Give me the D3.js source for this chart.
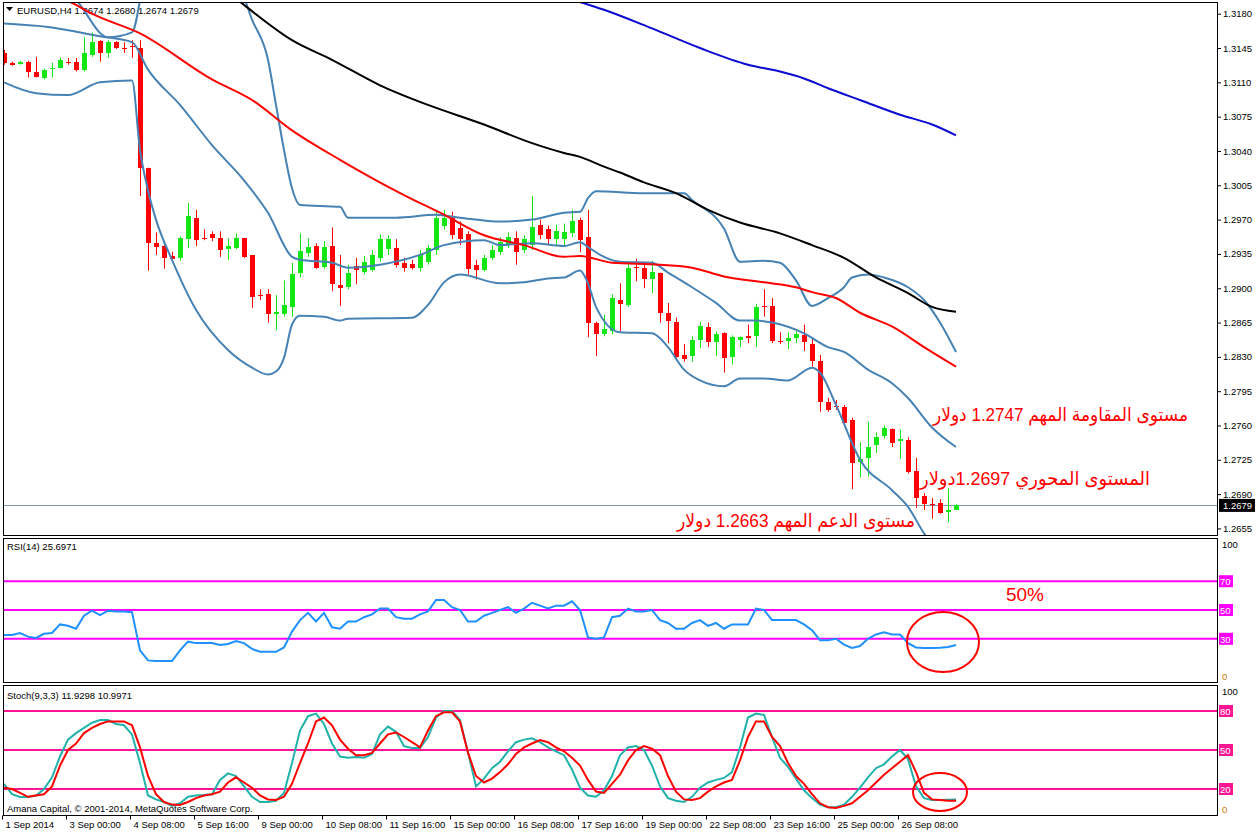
<!DOCTYPE html>
<html>
<head>
<meta charset="utf-8">
<script src="https://cdn.jsdelivr.net/npm/d3@7"></script>
<style>
  body { margin: 0; background: #fff; }
  svg text { font-family: "Liberation Sans", Arial, "DejaVu Sans", sans-serif; }
</style>
</head>
<body>
<svg id="chart" width="1258" height="835"></svg>
<script>
// ---- data ----
const opens = [1.3140,1.3130,1.3129,1.3131,1.3121,1.3115,1.3124,1.3125,1.3131,1.3131,1.3123,1.3138,1.3152,1.3140,1.3151,1.3145,1.3147,1.3145,1.3023,1.2946,
  1.2943,1.2933,1.2931,1.2951,1.2972,1.2951,1.2955,1.2951,1.2940,1.2941,1.2951,1.2934,1.2893,1.2894,1.2874,1.2874,1.2881,1.2916,1.2936,1.2943,
  1.2922,1.2943,1.2903,1.2902,1.2923,1.2917,1.2919,1.2931,1.2940,1.2941,1.2926,1.2925,1.2921,1.2927,1.2939,1.2964,1.2972,1.2961,1.2955,1.2924,
  1.2919,1.2931,1.2937,1.2944,1.2951,1.2939,1.2944,1.2965,1.2960,1.2950,1.2950,1.2957,1.2970,1.2952,1.2865,1.2853,1.2856,1.2888,1.2883,1.2922,
  1.2921,1.2910,1.2916,1.2875,1.2866,1.2832,1.2831,1.2847,1.2860,1.2845,1.2854,1.2830,1.2847,1.2851,1.2851,1.2882,1.2882,1.2846,1.2846,1.2849,
  1.2852,1.2843,1.2826,1.2784,1.2780,1.2779,1.2766,1.2723,1.2727,1.2740,1.2749,1.2756,1.2744,1.2745,1.2714,1.2688,1.2680,1.2681,1.2672,1.2674];
const highs = [1.3143,1.3131,1.3132,1.3132,1.3136,1.3124,1.3130,1.3135,1.3135,1.3135,1.3156,1.3161,1.3153,1.3153,1.3152,1.3151,1.3153,1.3153,1.3023,1.2957,
  1.2944,1.2937,1.2953,1.2987,1.2980,1.2960,1.2958,1.2958,1.2951,1.2956,1.2951,1.2934,1.2899,1.2899,1.2893,1.2908,1.2926,1.2956,1.2951,1.2946,
  1.2948,1.2962,1.2934,1.2924,1.2931,1.2933,1.2939,1.2955,1.2954,1.2950,1.2931,1.2929,1.2939,1.2944,1.2978,1.2980,1.2978,1.2968,1.2958,1.2929,
  1.2934,1.2944,1.2952,1.2957,1.2958,1.2954,1.2994,1.2970,1.2964,1.2965,1.2966,1.2980,1.2972,1.2980,1.2866,1.2873,1.2894,1.2905,1.2928,1.2930,
  1.2927,1.2928,1.2916,1.2885,1.2870,1.2843,1.2851,1.2866,1.2865,1.2856,1.2855,1.2852,1.2851,1.2863,1.2884,1.2899,1.2890,1.2855,1.2855,1.2856,
  1.2863,1.2850,1.2832,1.2788,1.2786,1.2781,1.2768,1.2743,1.2764,1.2753,1.2760,1.2757,1.2756,1.2748,1.2727,1.2691,1.2686,1.2685,1.2696,1.2680];
const lows = [1.3128,1.3127,1.3128,1.3115,1.3115,1.3113,1.3115,1.3124,1.3128,1.3121,1.3121,1.3136,1.3131,1.3135,1.3144,1.3140,1.3135,1.2994,1.2918,1.2934,
  1.2920,1.2929,1.2928,1.2941,1.2943,1.2949,1.2948,1.2932,1.2929,1.2940,1.2931,1.2880,1.2888,1.2865,1.2857,1.2871,1.2871,1.2911,1.2932,1.2920,
  1.2920,1.2897,1.2882,1.2899,1.2904,1.2914,1.2917,1.2927,1.2934,1.2921,1.2917,1.2919,1.2917,1.2924,1.2934,1.2960,1.2950,1.2944,1.2914,1.2909,
  1.2917,1.2929,1.2934,1.2941,1.2924,1.2936,1.2939,1.2950,1.2944,1.2944,1.2944,1.2952,1.2937,1.2850,1.2831,1.2851,1.2853,1.2856,1.2881,1.2907,
  1.2900,1.2895,1.2865,1.2844,1.2827,1.2825,1.2825,1.2839,1.2840,1.2831,1.2814,1.2822,1.2840,1.2844,1.2840,1.2871,1.2844,1.2843,1.2838,1.2844,
  1.2836,1.2820,1.2774,1.2774,1.2776,1.2761,1.2695,1.2707,1.2708,1.2732,1.2747,1.2738,1.2726,1.2711,1.2676,1.2674,1.2665,1.2670,1.2661,1.2674];
const closes = [1.3130,1.3128,1.3131,1.3121,1.3116,1.3123,1.3125,1.3133,1.3130,1.3123,1.3140,1.3151,1.3140,1.3151,1.3145,1.3144,1.3146,1.3023,1.2946,1.2942,
  1.2931,1.2930,1.2951,1.2974,1.2950,1.2950,1.2951,1.2939,1.2943,1.2951,1.2932,1.2891,1.2892,1.2874,1.2876,1.2883,1.2915,1.2938,1.2942,1.2921,
  1.2942,1.2904,1.2900,1.2916,1.2919,1.2927,1.2934,1.2950,1.2950,1.2924,1.2921,1.2921,1.2934,1.2941,1.2972,1.2972,1.2955,1.2950,1.2919,1.2919,
  1.2931,1.2939,1.2947,1.2952,1.2937,1.2950,1.2962,1.2955,1.2950,1.2958,1.2957,1.2969,1.2950,1.2864,1.2854,1.2858,1.2890,1.2884,1.2921,1.2921,
  1.2910,1.2917,1.2875,1.2867,1.2830,1.2828,1.2847,1.2861,1.2845,1.2853,1.2829,1.2850,1.2850,1.2849,1.2881,1.2881,1.2846,1.2845,1.2849,1.2853,
  1.2845,1.2826,1.2784,1.2776,1.2779,1.2763,1.2722,1.2726,1.2738,1.2748,1.2757,1.2742,1.2746,1.2712,1.2686,1.2680,1.2679,1.2671,1.2674,1.2679];

// indicator lines, [bar, price]
const bbUpper = [[0,1.3235],[9,1.3194],[13,1.3156],[16,1.3161],[17,1.3194],[18,1.3255],[29,1.3215],[31,1.3174],[33,1.3133],[34,1.3087],
  [35,1.3041],[36,1.3002],[37,1.2985],[42,1.2983],[43,1.2972],[49,1.2972],[54,1.2975],[57,1.2972],[62,1.2968],[66,1.2970],[70,1.2977],
  [72,1.2978],[73,1.2992],[74,1.2999],[80,1.2997],[85,1.2997],[86,1.2990],[90,1.2961],[92,1.2927],[95,1.2928],[97,1.2926],[99,1.2908],
  [101,1.2882],[103,1.2890],[105,1.2901],[106,1.2911],[108,1.2914],[110,1.2911],[113,1.2901],[115,1.2888],[117,1.2865],[119,1.2835]];
const bbMiddle = [[0,1.3170],[6,1.3166],[12,1.3157],[16,1.3151],[18,1.3123],[22,1.3087],[26,1.3046],[30,1.3010],[33,1.2977],[36,1.2932],
  [37,1.2929],[41,1.2926],[43,1.2921],[47,1.2924],[52,1.2934],[55,1.2944],[60,1.2949],[62,1.2944],[66,1.2946],[70,1.2943],[72,1.2947],
  [73,1.2942],[75,1.2932],[77,1.2927],[81,1.2926],[83,1.2916],[86,1.2901],[89,1.2885],[92,1.2867],[94,1.2867],[96,1.2865],[100,1.2854],
  [103,1.2840],[105,1.2835],[108,1.2817],[111,1.2803],[113,1.2788],[116,1.2758],[119,1.2738]];
const bbLower = [[0,1.3110],[4,1.3099],[8,1.3097],[12,1.3110],[16,1.3112],[17,1.3041],[18,1.3000],[19,1.2970],[21,1.2929],[24,1.2878],
  [28,1.2837],[31,1.2819],[33,1.2812],[34,1.2815],[35,1.2829],[36,1.2863],[37,1.2872],[40,1.2871],[42,1.2867],[43,1.2869],[51,1.2870],
  [53,1.2883],[55,1.2906],[57,1.2914],[62,1.2905],[65,1.2906],[68,1.2910],[70,1.2911],[72,1.2918],[73,1.2905],[74,1.2881],[77,1.2855],
  [81,1.2854],[83,1.2840],[85,1.2817],[87,1.2806],[90,1.2800],[92,1.2808],[95,1.2808],[98,1.2806],[101,1.2819],[102,1.2814],[104,1.2781],
  [107,1.2725],[111,1.2694],[113,1.2677],[115,1.2650],[117,1.2628],[119,1.2607]];
const maRed = [[0,1.3220],[9,1.3189],[11,1.3180],[17,1.3160],[26,1.3113],[31,1.3092],[36,1.3061],[42,1.3031],[50,1.2995],[55,1.2975],
  [60,1.2954],[65,1.2944],[70,1.2932],[72,1.2933],[76,1.2926],[82,1.2924],[86,1.2921],[90,1.2912],[95,1.2906],[99,1.2901],[101,1.2896],
  [104,1.2890],[107,1.2875],[111,1.2861],[115,1.2840],[119,1.2820]];
const maBlack = [[28,1.3202],[30,1.3189],[36,1.3153],[41,1.3133],[47,1.3107],[53,1.3087],[60,1.3067],[66,1.3048],[70,1.3038],[72,1.3034],
  [75,1.3024],[77,1.3018],[80,1.3008],[84,1.2997],[88,1.2980],[92,1.2967],[97,1.2956],[101,1.2944],[105,1.2931],[109,1.2911],[113,1.2895],
  [116,1.2881],[119,1.2876]];
const maBlue = [[70,1.3197],[72,1.3192],[75,1.3184],[81,1.3165],[87,1.3145],[93,1.3128],[97,1.3121],[100,1.3114],[103,1.3104],[107,1.3092],
  [112,1.3077],[116,1.3067],[119,1.3056]];

const rsiValues = [32.6,32.6,34,31.5,30.6,33.5,34,40,39,37,46,49.5,46.5,49.5,49,49,48.5,22,15,14.6,
  14.6,14.6,22,28,27,27,27,25.7,26.4,28.5,27,23,21,21,21,24,35,43,48,42,
  48,38,37,42,42,45,47,51,51,45,44,44,47,49,57,57,52,50,42,42,
  46,48,50,52,48,51,55,53,51,53,53,56,50,31,30,31,45,46,51,49,
  49,50,43,41,37,37,41,43,39,41,37,40,40,40,51,50,43,43,43,43,
  40,36,29,29,30,26,23.6,25,30,33,34.5,33,33,27,24,23.6,23.6,23.8,24.3,25.7];
const stochMain = [24,16,13.8,13.8,15,20,29,45,58,63,67,71,73,73,70,69,62,40,15,12,
  10,7,9,14,15,15.4,16,27,32,30,22,14,10,10,11,17,40,65,76,78,
  70,55,45,44,44.6,44,47,62,68,64,53,51.5,51.5,60,75,80,80,73,48,22,
  28,36,41,49,56,58,59,56,52,49,46,35,21,15,14,19,30,46,52,53,
  50,38,22,13,11,10,14,21,25,27,28.5,33,52,75,78,77,60,44,37,28,
  19,13,8,6,6,8,14,21,29,36,39,45,50,43,22,13,11.5,11.5,11.7,11.9];
const stochSignal = [21,20,17,14,15,16,22,38,50,55,63,67,70,72,72,72,69,52,30,16,
  10,8,7.7,10,13,15,16,18,25,29,25,21,15,12,11.5,14,24,40,55,72,
  75,69,58,51,46,46,47.7,55,62,63.5,60,56,52,65,76,79,79,72,48,30,
  25,28,33,39,47,52,55,57.7,56,52,49,44,38,27,18,17,24,31,42,50,
  53,51,46,30,18,12,11.5,13,18,22,25,27,42,60,72,72,60,53,40,30,
  24,16,9,6,5.4,7,9,14,19,25,31,36,41,46,33,17,12,11.5,11,11];

const priceTicks = [1.3180,1.3145,1.3110,1.3075,1.3040,1.3005,1.2970,1.2935,1.2900,1.2865,1.2830,1.2795,1.2760,1.2725,1.2690,1.2655];
const tickBars = [0,8,16,24,32,40,48,56,64,72,80,88,96,104,112];
const timeLabels = ["1 Sep 2014","3 Sep 00:00","4 Sep 08:00","5 Sep 16:00","9 Sep 00:00","10 Sep 08:00","11 Sep 16:00",
  "15 Sep 00:00","16 Sep 08:00","17 Sep 16:00","19 Sep 00:00","22 Sep 08:00","23 Sep 16:00","25 Sep 00:00","26 Sep 08:00"];
const rsiLevels = [70, 50, 30];
const stochLevels = [80, 50, 20];
const lastPrice = 1.2679;
const notes = [
  {text: "مستوى المقاومة المهم 1.2747 دولار", price: 1.2747},
  {text: "المستوى المحوري 1.2697دولار", price: 1.2697},
  {text: "مستوى الدعم المهم 1.2663 دولار", price: 1.2663}
];

// ---- layout ----
const left = 3, right = 1217;
const mainPane = {top: 2, bottom: 535};
const rsiPane = {top: 538, bottom: 682};
const stochPane = {top: 685, bottom: 815};

const svg = d3.select("#chart");
const x = d3.scaleLinear().domain([0, 119]).range([4, 956]);
const yMain = d3.scaleLinear().domain([1.3194, 1.26483]).range([0, 535]);
const yRsi = d3.scaleLinear().domain([0, 100]).range([rsiPane.bottom, rsiPane.top]);
const yStoch = d3.scaleLinear().domain([0, 100]).range([stochPane.bottom, stochPane.top]);

const defs = svg.append("defs");
[["clipMain", mainPane], ["clipRsi", rsiPane], ["clipStoch", stochPane]].forEach(([id, p]) => {
  defs.append("clipPath").attr("id", id).append("rect")
    .attr("x", left).attr("y", p.top).attr("width", right - left).attr("height", p.bottom - p.top);
});

// ---- main pane ----
const header = svg.append("g");
header.append("path").attr("d", "M6,7 L13,7 L9.5,11 Z").attr("fill", "#000");
header.append("text").attr("x", 17).attr("y", 14).attr("font-size", 9.5)
  .text("EURUSD,H4  1.2674 1.2680 1.2674 1.2679");

const main = svg.append("g").attr("clip-path", "url(#clipMain)");

main.append("line")
  .attr("x1", left).attr("x2", right)
  .attr("y1", Math.round(yMain(lastPrice)) + 0.5).attr("y2", Math.round(yMain(lastPrice)) + 0.5)
  .attr("stroke", "#7f96ad").attr("stroke-width", 1);

const bull = "#14e614", bear = "#ff0000";
const candles = main.append("g").selectAll("g")
  .data(d3.range(opens.length))
  .join("g")
  .attr("stroke", i => closes[i] > opens[i] ? bull : bear)
  .attr("fill", i => closes[i] > opens[i] ? bull : bear);

candles.append("line")
  .attr("x1", i => Math.round(x(i)) + 0.5).attr("x2", i => Math.round(x(i)) + 0.5)
  .attr("y1", i => yMain(highs[i])).attr("y2", i => yMain(lows[i]))
  .attr("stroke-width", 1);

candles.append("rect")
  .attr("x", i => Math.round(x(i)) - 2)
  .attr("width", 5)
  .attr("y", i => Math.round(yMain(Math.max(opens[i], closes[i]))))
  .attr("height", i => Math.max(1, Math.round(Math.abs(yMain(opens[i]) - yMain(closes[i])))))
  .attr("stroke", "none");

const priceLine = d3.line().x(d => x(d[0])).y(d => yMain(d[1])).curve(d3.curveMonotoneX);
[[bbUpper, "#4682b4"], [bbMiddle, "#4682b4"], [bbLower, "#4682b4"],
 [maRed, "#ff0000"], [maBlack, "#000000"], [maBlue, "#0a0ad2"]].forEach(([data, color]) => {
  main.append("path").datum(data)
    .attr("d", priceLine)
    .attr("fill", "none").attr("stroke", color).attr("stroke-width", 2);
});

// annotations (right edge, baseline, width as in the screenshot)
const noteRight = [1188, 1150, 915];
const noteBase = [421, 485, 527];
const noteWidth = [255, 230, 238];
svg.append("g").selectAll("text")
  .data(notes)
  .join("text")
  .attr("x", (d, i) => noteRight[i])
  .attr("y", (d, i) => noteBase[i])
  .attr("direction", "rtl")
  .attr("text-anchor", "start")
  .attr("font-size", 19)
  .attr("textLength", (d, i) => noteWidth[i])
  .attr("lengthAdjust", "spacingAndGlyphs")
  .attr("fill", "#ff0000")
  .text(d => d.text);

// price axis
const priceAxis = svg.append("g")
  .attr("transform", `translate(${right},0)`)
  .call(d3.axisRight(yMain).tickValues(priceTicks).tickFormat(d3.format(".4f")).tickSize(4).tickPadding(2));
priceAxis.select(".domain").remove();
priceAxis.selectAll("text").attr("font-size", 9.5).attr("font-family", "Liberation Sans, Arial, sans-serif").attr("fill", "#000");
priceAxis.selectAll("line").attr("stroke", "#000");

const lastY = yMain(lastPrice);
svg.append("rect").attr("x", 1219).attr("y", lastY - 6).attr("width", 36).attr("height", 13).attr("fill", "#000");
svg.append("text").attr("x", 1223).attr("y", lastY + 4).attr("font-size", 9.5).attr("fill", "#fff").text(lastPrice.toFixed(4));

// ---- RSI pane ----
svg.append("text").attr("x", 7).attr("y", 550).attr("font-size", 9.5).text("RSI(14) 25.6971");
const rsiG = svg.append("g").attr("clip-path", "url(#clipRsi)");
rsiG.selectAll("line.level").data(rsiLevels).join("line")
  .attr("x1", left).attr("x2", right)
  .attr("y1", d => yRsi(d)).attr("y2", d => yRsi(d))
  .attr("stroke", "#ff00ff").attr("stroke-width", 2);
rsiG.append("path").datum(rsiValues)
  .attr("d", d3.line().x((d, i) => x(i)).y(d => yRsi(d)))
  .attr("fill", "none").attr("stroke", "#1e90ff").attr("stroke-width", 2);

svg.append("text").attr("x", 1025).attr("y", 601).attr("text-anchor", "middle")
  .attr("font-size", 19).attr("fill", "#ff0000").text("50%");
svg.append("ellipse").attr("cx", 943).attr("cy", 642).attr("rx", 36).attr("ry", 30)
  .attr("fill", "none").attr("stroke", "#ff0000").attr("stroke-width", 2);

// ---- Stochastic pane ----
svg.append("text").attr("x", 7).attr("y", 699).attr("font-size", 9.5).text("Stoch(9,3,3) 11.9298 10.9971");
const stG = svg.append("g").attr("clip-path", "url(#clipStoch)");
stG.selectAll("line.level").data(stochLevels).join("line")
  .attr("x1", left).attr("x2", right)
  .attr("y1", d => yStoch(d)).attr("y2", d => yStoch(d))
  .attr("stroke", "#ff1493").attr("stroke-width", 2);
const stochLine = d3.line().x((d, i) => x(i)).y(d => yStoch(d));
stG.append("path").datum(stochMain).attr("d", stochLine)
  .attr("fill", "none").attr("stroke", "#20b2aa").attr("stroke-width", 2);
stG.append("path").datum(stochSignal).attr("d", stochLine)
  .attr("fill", "none").attr("stroke", "#ff0000").attr("stroke-width", 2);
svg.append("text").attr("x", 7).attr("y", 812).attr("font-size", 9.5)
  .text("Amana Capital, © 2001-2014, MetaQuotes Software Corp.");
svg.append("ellipse").attr("cx", 940).attr("cy", 792).attr("rx", 27).attr("ry", 19)
  .attr("fill", "none").attr("stroke", "#ff0000").attr("stroke-width", 2);

// level tags on the right
function levelTags(levels, scale, color) {
  const g = svg.append("g");
  levels.forEach(v => {
    g.append("rect").attr("x", 1219).attr("y", scale(v) - 6).attr("width", 14).attr("height", 12).attr("fill", color);
    g.append("text").attr("x", 1220).attr("y", scale(v) + 4).attr("font-size", 9.5).attr("fill", "#fff").text(v);
  });
}
levelTags(rsiLevels, yRsi, "#ff00ff");
levelTags(stochLevels, yStoch, "#ff1493");
[[yRsi, rsiPane], [yStoch, stochPane]].forEach(([s, p]) => {
  svg.append("text").attr("x", 1222).attr("y", p.top + 10).attr("font-size", 9.5).attr("fill", "#000").text("100");
  svg.append("text").attr("x", 1222).attr("y", p.bottom - 2).attr("font-size", 9.5).attr("fill", "#c87800").text("0");
});

// ---- frames ----
const frame = svg.append("g").attr("fill", "none").attr("stroke", "#000").attr("stroke-width", 1);
frame.append("rect").attr("x", left + 0.5).attr("y", mainPane.top + 0.5).attr("width", right - left).attr("height", mainPane.bottom - mainPane.top);
frame.append("rect").attr("x", left + 0.5).attr("y", rsiPane.top + 0.5).attr("width", right - left).attr("height", rsiPane.bottom - rsiPane.top);
frame.append("rect").attr("x", left + 0.5).attr("y", stochPane.top + 0.5).attr("width", right - left).attr("height", stochPane.bottom - stochPane.top);

// time axis
const timeAxis = svg.append("g")
  .attr("transform", `translate(-2,${stochPane.bottom + 0.5})`)
  .call(d3.axisBottom(x).tickValues(tickBars).tickFormat((d, i) => timeLabels[i]).tickSize(4).tickPadding(2));
timeAxis.select(".domain").remove();
timeAxis.selectAll("line").attr("stroke", "#000");
timeAxis.selectAll("text").attr("text-anchor", "start").attr("dx", 3).attr("font-size", 9.5)
  .attr("font-family", "Liberation Sans, Arial, sans-serif").attr("fill", "#000");
</script>
</body>
</html>
